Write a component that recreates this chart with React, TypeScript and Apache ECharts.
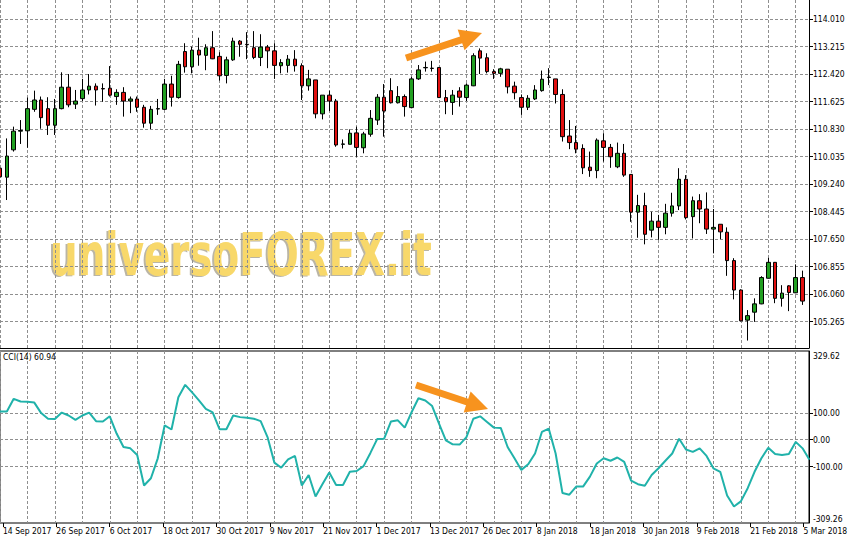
import React, { useEffect, useRef } from "react";
import * as echarts from "echarts";

// ---- data ----
const dateLabels: string[] = [
  "14 Sep 2017", "26 Sep 2017", "6 Oct 2017", "18 Oct 2017", "30 Oct 2017", "9 Nov 2017",
  "21 Nov 2017", "1 Dec 2017", "13 Dec 2017", "26 Dec 2017", "8 Jan 2018", "18 Jan 2018",
  "30 Jan 2018", "9 Feb 2018", "21 Feb 2018", "5 Mar 2018",
];
const dateLabelBars: number[] = [0, 8, 16, 24, 32, 40, 48, 56, 64, 72, 80, 88, 96, 104, 112, 120];

const priceTicks: number[] = [
  105.265, 106.06, 106.855, 107.65, 108.445, 109.24, 110.035, 110.83, 111.625, 112.42, 113.215, 114.01,
];
const priceMin = 104.505;
const priceMax = 114.559;

const cciTicks: number[] = [-100, 0, 100];
const cciMin = -309.26;
const cciMax = 329.62;
const cciCaption = "CCI(14) 60.94";
const watermark = "universoFOREX.it";

const open: number[] = [
  109.7, 109.44, 110.23, 110.77, 110.78, 111.4, 111.67, 111.42, 110.94, 111.42,
  112.04, 111.55, 111.71, 111.96, 112.07, 112.0, 112.01, 111.77, 111.89, 111.64,
  111.7, 111.46, 111.0, 111.41, 111.4, 112.13, 111.74, 113.07, 112.63, 113.11,
  112.96, 113.18, 112.93, 112.38, 112.83, 113.37, 113.28, 113.18, 112.9, 113.2,
  113.09, 112.66, 112.67, 112.85, 112.66, 112.08, 112.25, 111.27, 111.81, 111.64,
  110.39, 110.39, 110.72, 110.29, 110.68, 111.09, 111.75, 111.94, 111.59, 111.77,
  111.45, 112.28, 112.6, 112.59, 112.61, 111.74, 111.6, 111.93, 111.74, 112.08,
  113.09, 112.89, 112.49, 112.44, 112.56, 112.07, 111.74, 111.46, 111.7, 111.94,
  112.32, 112.28, 111.83, 110.63, 110.44, 110.27, 109.73, 109.63, 110.49, 110.3,
  109.74, 110.13, 109.52, 108.43, 108.62, 107.91, 108.17, 107.99, 108.4, 108.61,
  109.38, 108.3, 108.76, 108.52, 107.94, 108.08, 107.85, 107.03, 106.18, 105.31,
  105.54, 105.78, 106.52, 106.98, 105.94, 106.3, 106.1, 106.54,
];
const high: number[] = [
  109.85, 110.56, 110.9, 111.09, 111.74, 111.94, 111.77, 111.75, 111.7, 112.47,
  112.42, 111.96, 112.28, 112.42, 112.15, 112.15, 112.65, 111.98, 112.04, 111.77,
  111.77, 111.53, 111.5, 111.7, 112.28, 112.37, 112.8, 113.31, 113.21, 113.47,
  113.28, 113.66, 113.05, 112.92, 113.47, 113.4, 113.63, 113.66, 113.57, 113.26,
  113.31, 112.85, 112.97, 113.11, 112.73, 112.54, 112.25, 111.81, 111.94, 111.7,
  110.53, 110.82, 110.9, 110.75, 111.38, 111.84, 112.13, 112.3, 112.07, 111.83,
  112.34, 112.68, 112.78, 112.8, 112.62, 111.96, 111.96, 112.04, 112.15, 113.02,
  113.16, 113.02, 112.56, 112.6, 112.56, 112.2, 111.83, 111.81, 112.1, 112.52,
  112.59, 112.28, 111.98, 111.09, 110.92, 110.39, 110.18, 110.56, 110.71, 110.4,
  110.44, 110.4, 109.53, 108.93, 108.99, 108.44, 108.35, 108.67, 108.99, 109.7,
  109.5, 108.88, 108.95, 109.0, 108.52, 108.08, 107.99, 107.1, 106.2, 105.6,
  105.94, 106.58, 107.11, 106.99, 106.32, 106.32, 106.92, 106.74,
];
const low: number[] = [
  109.36, 108.78, 110.18, 110.4, 110.29, 111.33, 110.84, 110.66, 110.66, 111.4,
  111.46, 111.41, 111.64, 111.83, 111.51, 111.62, 111.77, 111.53, 111.19, 111.29,
  111.33, 110.87, 110.83, 111.24, 111.38, 111.48, 111.71, 112.46, 112.44, 112.66,
  112.53, 112.85, 112.23, 112.15, 112.8, 112.92, 112.85, 112.85, 112.65, 112.59,
  112.28, 112.44, 112.46, 112.49, 111.67, 111.94, 111.14, 111.11, 111.35, 110.32,
  110.27, 110.39, 110.03, 110.13, 110.61, 110.95, 110.61, 111.57, 111.57, 111.19,
  111.43, 112.25, 112.49, 112.49, 111.73, 111.26, 111.24, 111.48, 111.64, 112.07,
  112.42, 112.44, 112.28, 112.34, 111.86, 111.69, 111.24, 111.38, 111.67, 111.91,
  112.1, 111.57, 110.47, 110.25, 110.13, 109.53, 109.45, 109.41, 109.89, 109.71,
  109.7, 109.45, 108.15, 107.69, 107.5, 107.7, 107.63, 107.79, 108.3, 108.49,
  108.22, 107.67, 108.11, 107.8, 107.24, 107.65, 106.59, 105.91, 105.28, 104.72,
  105.26, 105.77, 106.51, 105.8, 105.7, 105.57, 106.09, 105.75,
];
const close: number[] = [
  109.45, 110.05, 110.77, 110.79, 111.42, 111.67, 111.16, 110.94, 111.42, 112.04,
  111.53, 111.64, 111.96, 112.07, 111.96, 111.99, 111.81, 111.89, 111.64, 111.7,
  111.46, 111.0, 111.4, 111.42, 112.13, 111.75, 112.7, 112.63, 113.11, 112.97,
  113.18, 112.86, 112.37, 112.83, 113.37, 113.28, 113.27, 112.9, 113.2, 113.09,
  112.67, 112.75, 112.85, 112.66, 112.08, 112.28, 111.27, 111.81, 111.64, 110.37,
  110.4, 110.71, 110.3, 110.69, 111.14, 111.75, 111.35, 111.59, 111.77, 111.48,
  112.28, 112.54, 112.61, 112.58, 111.74, 111.62, 111.81, 111.75, 112.1, 112.95,
  112.88, 112.49, 112.44, 112.57, 112.05, 111.88, 111.46, 111.72, 111.96, 112.27,
  112.33, 111.83, 110.61, 110.44, 110.25, 109.71, 109.63, 110.51, 110.3, 110.03,
  110.13, 109.5, 108.43, 108.62, 107.79, 108.17, 107.99, 108.4, 108.61, 109.38,
  108.27, 108.76, 108.52, 107.94, 107.99, 107.86, 107.03, 106.18, 105.29, 105.44,
  105.78, 106.54, 106.98, 105.94, 106.09, 106.11, 106.54, 105.86,
];
const cci: number[] = [
  105, 105, 152, 142, 141, 138, 99, 78, 77, 101,
  90, 74, 90, 101, 69, 68, 87, 23, -27, -32,
  -57, -170, -143, -69, 53, 38, 158, 204, 176, 146,
  115, 102, 39, 39, 90, 84, 82, 78, 69, 10,
  -85, -104, -73, -60, -170, -131, -211, -165, -122, -168,
  -168, -119, -116, -98, -49, 3, 4, 68, 72, 45,
  102, 154, 146, 125, 60, -2, -17, -18, 10, 78,
  87, 66, 45, 44, -27, -69, -112, -91, -51, 29,
  41, -51, -198, -204, -174, -174, -137, -88, -69, -78,
  -66, -82, -152, -165, -171, -131, -106, -78, -51, 4,
  -36, -45, -32, -60, -106, -119, -207, -248, -229, -180,
  -119, -69, -30, -53, -57, -53, -8, -32, -74,
];

// ---- layout / style ----
const FONT = "'DejaVu Sans Condensed', 'DejaVu Sans', sans-serif";
const FONT_SIZE = 8.5;
const BAR_PX = 6.866;
const FIRST_BAR_X = -0.76;
const PLOT_RIGHT = 809;
const xMax = (PLOT_RIGHT - FIRST_BAR_X) / BAR_PX;
const labelAxisMax = 124;
const gridLine = { color: "#8f8f8f", type: [3, 2] as number[], width: 1 };

function arrowPoints(tail: number[], tip: number[], shaft: number, headLen: number, headHalf: number) {
  const dx = tip[0] - tail[0];
  const dy = tip[1] - tail[1];
  const len = Math.hypot(dx, dy);
  const ux = dx / len, uy = dy / len;
  const nx = -uy, ny = ux;
  const bx = tip[0] - ux * headLen, by = tip[1] - uy * headLen;
  return [
    [tail[0] + nx * shaft, tail[1] + ny * shaft],
    [bx + nx * shaft, by + ny * shaft],
    [bx + nx * headHalf, by + ny * headHalf],
    [tip[0], tip[1]],
    [bx - nx * headHalf, by - ny * headHalf],
    [bx - nx * shaft, by - ny * shaft],
    [tail[0] - nx * shaft, tail[1] - ny * shaft],
  ];
}

export default function App() {
  const ref = useRef<HTMLDivElement>(null);
  useEffect(() => {
    document.body.style.margin = "0";
    const chart = echarts.init(ref.current!, null, { renderer: "svg" });
    const candleData = open.map((o, i) => [i, o, close[i], low[i], high[i]]);
    const cciData = cci.map((v, i) => [i, v]);
    const labelStyle = { color: "#000", fontSize: FONT_SIZE, fontFamily: FONT };

    chart.setOption({
      animation: false,
      backgroundColor: "#fff",
      textStyle: { fontFamily: FONT },
      grid: [
        { left: FIRST_BAR_X, top: 0, width: PLOT_RIGHT - FIRST_BAR_X, height: 348 },
        {
          left: FIRST_BAR_X, top: 351, width: PLOT_RIGHT - FIRST_BAR_X, height: 172,
          show: true, borderColor: "#000", borderWidth: 1, backgroundColor: "transparent",
        },
        { left: FIRST_BAR_X, top: 522, width: labelAxisMax * BAR_PX, height: 1 },
      ],
      xAxis: [
        {
          gridIndex: 0, type: "value", min: 0, max: xMax, interval: 4,
          axisLine: { show: true, onZero: false, lineStyle: { color: "#000", width: 1 } },
          axisTick: { show: false }, axisLabel: { show: false },
          splitLine: { show: true, lineStyle: gridLine },
        },
        {
          gridIndex: 1, type: "value", min: 0, max: xMax, interval: 4,
          axisLine: { show: false, onZero: false },
          axisTick: { show: false }, axisLabel: { show: false },
          splitLine: { show: true, lineStyle: gridLine },
        },
        {
          gridIndex: 2, type: "value", min: 0, max: labelAxisMax,
          axisLine: { show: false, onZero: false },
          axisTick: { show: true, customValues: dateLabelBars, length: 4, lineStyle: { color: "#000" } },
          axisLabel: {
            ...labelStyle, customValues: dateLabelBars, align: "left", margin: 3,
            showMinLabel: true, showMaxLabel: true,
            formatter: (v: number) => dateLabels[dateLabelBars.indexOf(Math.round(v))] ?? "",
          },
          splitLine: { show: false },
        },
      ],
      yAxis: [
        {
          gridIndex: 0, type: "value", position: "right", min: priceMin, max: priceMax,
          axisLine: { show: true, onZero: false, lineStyle: { color: "#000", width: 1 } },
          axisTick: { show: true, customValues: priceTicks, length: 4, lineStyle: { color: "#000" } },
          axisLabel: {
            ...labelStyle, customValues: priceTicks, margin: 4,
            formatter: (v: number) => v.toFixed(3),
          },
          splitLine: { show: true, lineStyle: gridLine },
        },
        {
          gridIndex: 1, type: "value", position: "right", min: cciMin, max: cciMax,
          axisLine: { show: true, onZero: false, lineStyle: { color: "#000", width: 1 } },
          axisTick: { show: true, customValues: cciTicks, length: 4, lineStyle: { color: "#000" } },
          axisLabel: {
            ...labelStyle, customValues: [cciMin, ...cciTicks, cciMax], margin: 4,
            showMinLabel: true, showMaxLabel: true,
            verticalAlignMinLabel: "bottom", verticalAlignMaxLabel: "top",
            formatter: (v: number) => v.toFixed(2),
          },
          splitLine: { show: true, lineStyle: gridLine },
        },
        {
          gridIndex: 2, type: "value", min: 0, max: 1, show: false,
        },
      ],
      series: [
        {
          type: "candlestick", xAxisIndex: 0, yAxisIndex: 0, data: candleData, barWidth: 4,
          itemStyle: {
            color: "#22a022", color0: "#e01010",
            borderColor: "#000", borderColor0: "#000", borderWidth: 1,
          },
          z: 3,
        },
        {
          type: "line", xAxisIndex: 1, yAxisIndex: 1, data: cciData,
          symbol: "none", showSymbol: false,
          lineStyle: { color: "#20b2aa", width: 2 },
          z: 3,
        },
      ],
      graphic: [
        {
          type: "text", x: 50, y: 255, scaleX: 0.67, z: -10, silent: true,
          style: {
            text: watermark, font: "bold 58px 'DejaVu Sans'", fill: "#f8d86a",
            align: "left", verticalAlign: "middle",
            textShadowColor: "rgba(130,120,90,0.55)", textShadowOffsetX: -2, textShadowOffsetY: 1, textShadowBlur: 1,
          },
        },
        {
          type: "text", x: 3, y: 357, z: 50,
          style: { text: cciCaption, font: `${FONT_SIZE}px ${FONT}`, fill: "#000", align: "left", verticalAlign: "middle" },
        },
        {
          type: "polygon", z: 60,
          shape: { points: arrowPoints([406, 58], [482, 33], 3.5, 22, 11) },
          style: { fill: "#f7931e" },
        },
        {
          type: "polygon", z: 60,
          shape: { points: arrowPoints([416, 385], [488, 409], 3.5, 22, 11) },
          style: { fill: "#f7931e" },
        },
      ],
    });
    return () => chart.dispose();
  }, []);
  return (
    <div
      ref={ref}
      style={{ position: "absolute", left: 0, top: 0, width: 850, height: 538 }}
    />
  );
}
